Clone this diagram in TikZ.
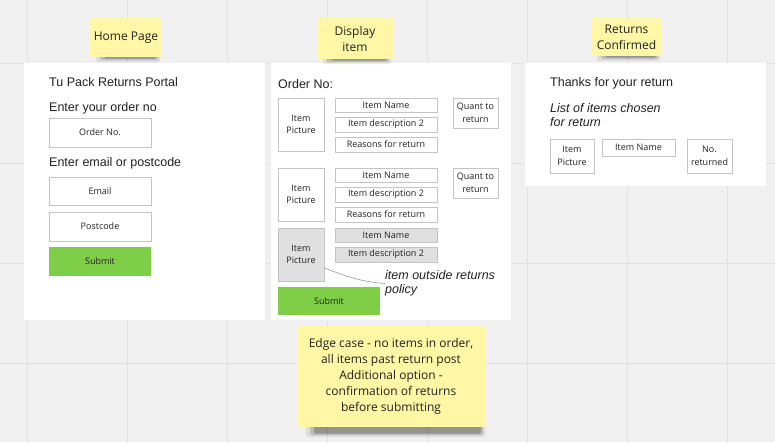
\documentclass[tikz,border=0pt]{standalone}
\usepackage{fontspec}
\setmainfont{Liberation Sans}
\newfontfamily\opensans{Open Sans}
\definecolor{bg}{HTML}{F0F0F0}
\definecolor{gridc}{HTML}{E2E2E2}
\definecolor{boxgray}{HTML}{C4C4C4}
\definecolor{sticky}{HTML}{FFF6A6}
\definecolor{greenbtn}{HTML}{7FCE47}
\definecolor{grayitem}{HTML}{E0E0E0}
\definecolor{txt}{HTML}{222222}
\tikzset{
  panel/.style={fill=white, draw=none, inner sep=0pt},
  stickynote/.style={fill=sticky, draw=none, inner sep=0pt, align=center, text=txt,
     font=\opensans\fontsize{12}{16}\selectfont},
  uibox/.style={draw=boxgray, fill=white, line width=0.9pt, inner sep=0pt, align=center,
     text=txt, font=\opensans\fontsize{9}{12.5}\selectfont},
  graybox/.style={uibox, fill=grayitem},
  btn/.style={fill=greenbtn, draw=none, inner sep=0pt, text=txt,
     font=\opensans\fontsize{9}{11}\selectfont},
  label/.style={inner sep=0pt, anchor=west, text=txt, font=\fontsize{12.5}{14.5}\selectfont},
  ilabel/.style={label, align=left, font=\itshape\fontsize{12.5}{14.5}\selectfont},
  shadowlayer/.style={fill=black, rounded corners=2pt},
}
% #1 x1, #2 x2, #3 bottom y, #4 depth
\newcommand{\stickyshadow}[4]{%
  \fill[shadowlayer, opacity=0.08] (#1+6,#3-4) rectangle (#2-2,#3+#4+2);
  \fill[shadowlayer, opacity=0.14] (#1+10,#3-4) rectangle (#2-4,#3+#4);
  \fill[shadowlayer, opacity=0.22] (#1+14,#3-4) rectangle (#2-6,#3+#4-1.5);
}
\begin{document}
\begin{tikzpicture}[x=1pt,y=-1pt]
\useasboundingbox (0,0) rectangle (775,442);
\fill[bg] (0,0) rectangle (775,442);
\foreach \gx in {27,127,...,727} \draw[gridc, line width=1pt] (\gx,0) -- (\gx,442);
\foreach \gy in {63,163,263,363} \draw[gridc, line width=1pt] (0,\gy) -- (775,\gy);

% panels
\node[panel, minimum width=241, minimum height=257] (home) at (144.5,191.5) {};
\node[panel, minimum width=240, minimum height=257] (disp) at (391,191.5) {};
\node[panel, minimum width=241, minimum height=123] (conf) at (645.5,124.5) {};

% sticky notes
\stickyshadow{90}{162}{57}{3}
\node[stickynote, minimum width=72, minimum height=39] (s1) at (126,37.5) {Home Page};
\stickyshadow{317}{393}{59}{3}
\node[stickynote, minimum width=76, minimum height=41] (s2) at (355,38.5) {Display\\item};
\stickyshadow{591}{662}{56}{3}
\node[stickynote, minimum width=71, minimum height=38] (s3) at (626.5,37) {Returns\\Confirmed};
\stickyshadow{300}{487}{427}{8}
\node[stickynote, minimum width=188, minimum height=101] (s4) at (391,376.5)
  {Edge case - no items in order,\\all items past return post\\Additional option -\\confirmation of returns\\before submitting};

% home page
\node[label] (hTitle) at (49,82) {Tu Pack Returns Portal};
\node[label] (hOrd) at (49,108) {Enter your order no};
\node[uibox, minimum width=102, minimum height=29] (hOrder) at (100,132.5) {Order No.};
\node[label] (hMail) at (49,163) {Enter email or postcode};
\node[uibox, minimum width=102, minimum height=28] (hEmail) at (100,191) {Email};
\node[uibox, minimum width=102, minimum height=29] (hPost) at (100,226.5) {Postcode};
\node[btn, minimum width=102, minimum height=29] (hSubmit) at (100,261.5) {Submit};

% display item
\node[label] (dOrd) at (278,84) {Order No:};
\foreach \i/\dy in {1/0,2/70}{
  \node[uibox, minimum width=46, minimum height=53] (pic\i) at (301,124.5+\dy) {Item\\Picture};
  \node[uibox, minimum width=102, minimum height=14] (name\i) at (386,105+\dy) {Item Name};
  \node[uibox, minimum width=102, minimum height=15] (desc\i) at (386,124.5+\dy) {Item description 2};
  \node[uibox, minimum width=102, minimum height=15] (reas\i) at (386,144.5+\dy) {Reasons for return};
  \node[uibox, minimum width=45, minimum height=30] (quant\i) at (475.5,113+\dy) {Quant to\\return};
}
\node[graybox, minimum width=46, minimum height=53] (pic3) at (301,254.5) {Item\\Picture};
\node[graybox, minimum width=102, minimum height=14] (name3) at (386,235) {Item Name};
\node[graybox, minimum width=102, minimum height=15] (desc3) at (386,254.5) {Item description 2};
\node[btn, minimum width=102, minimum height=28] (dSubmit) at (329,301) {Submit};
\node[ilabel] (note) at (385,283.5) {item outside returns\\policy};
\coordinate (picR) at (pic3.east |- 0,268);
\draw[gray!80, line width=0.6pt] (picR) .. controls (345,276) and (362,282) .. (note.west);

% returns confirmed
\node[label] (cTitle) at (550,83) {Thanks for your return};
\node[ilabel] (cList) at (550,115) {List of items chosen\\for return};
\node[uibox, minimum width=44, minimum height=34] (cPic) at (572,156) {Item\\Picture};
\node[uibox, minimum width=73, minimum height=17] (cName) at (638.5,147.5) {Item Name};
\node[uibox, minimum width=45, minimum height=34] (cNo) at (709.5,156) {No.\\returned};
\end{tikzpicture}
\end{document}
